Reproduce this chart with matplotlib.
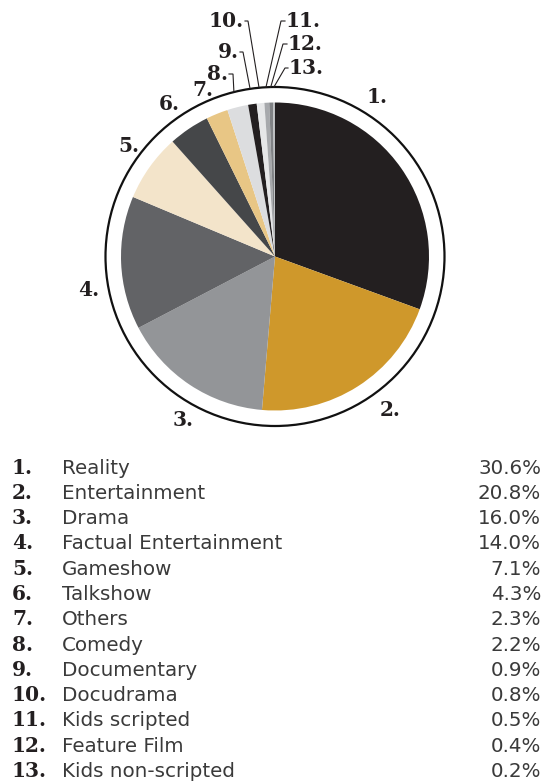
import matplotlib
matplotlib.use("Agg")
import matplotlib.pyplot as plt
from matplotlib.patches import Circle
import numpy as np

categories = ["Reality", "Entertainment", "Drama", "Factual Entertainment", "Gameshow",
              "Talkshow", "Others", "Comedy", "Documentary", "Docudrama",
              "Kids scripted", "Feature Film", "Kids non-scripted"]
shares = [30.6, 20.8, 16.0, 14.0, 7.1, 4.3, 2.3, 2.2, 0.9, 0.8, 0.5, 0.4, 0.2]
share_labels = ["30.6%", "20.8%", "16.0%", "14.0%", "7.1%", "4.3%", "2.3%", "2.2%",
                "0.9%", "0.8%", "0.5%", "0.4%", "0.2%"]
colors = ["#231f20", "#cf982b", "#939598", "#626366", "#f3e4ca", "#454749", "#e8c685",
          "#dcdddf", "#231f20", "#e6e7e8", "#a7a9ac", "#808285", "#bcbec0"]

W, H = 552, 782
fig = plt.figure(figsize=(W / 100, H / 100), dpi=100)
ax = fig.add_axes([0, 0, 1, 1])

def Y(y):
    return H - y

cx, cy = 275, 256.5
pie_r, ring_r = 154, 169.5

ax.pie(shares, colors=colors, startangle=90, counterclock=False, radius=pie_r,
       center=(cx, Y(cy)), wedgeprops=dict(linewidth=0))
ax.add_patch(Circle((cx, Y(cy)), ring_r, fill=False, edgecolor="#111111", linewidth=1.6))
ax.set_xlim(0, W)
ax.set_ylim(0, H)
ax.set_aspect("auto")
ax.axis("off")

num_font = dict(family="DejaVu Serif", fontweight="bold", color="#231f20")
num_size = 14.5

# labels around the pie (no leader)
big_label_pos = {1: (377, 97), 2: (390, 410), 3: (183, 420), 4: (89, 290),
                 5: (129, 146), 6: (169, 104), 7: (203, 90)}
for k, (x, y) in big_label_pos.items():
    ax.text(x, Y(y), f"{k}.", ha="center", va="center", fontsize=num_size, **num_font)

# small slices with leader lines
total = sum(shares)
cum = np.cumsum([0] + shares)
leader = {  # label anchor x, y, elbow x, side
    8: (228, 74, 233, "r"),
    9: (239, 52, 243, "r"),
    10: (244, 21, 248, "r"),
    11: (286, 21, 281, "l"),
    12: (288, 44, 283, "l"),
    13: (289, 68, 285, "l"),
}
for k, (tx, ty, ex, side) in leader.items():
    i = k - 1
    mid = (cum[i] + cum[i + 1]) / 2 / total
    ang = np.deg2rad(90 - 360 * mid)
    px = cx + ring_r * np.cos(ang)
    py = Y(cy) + ring_r * np.sin(ang)
    ax.plot([tx + (1 if side == "r" else -1), ex, px], [Y(ty), Y(ty), py],
            color="#231f20", lw=0.8, solid_joinstyle="miter")
    ax.text(tx, Y(ty), f"{k}.", ha="right" if side == "r" else "left", va="center",
            fontsize=num_size, **num_font)

# table
base0, dy = 473.5, 25.3
txt_font = dict(family="DejaVu Sans", fontweight="normal", color="#3a3a3a")
for i, (c, s) in enumerate(zip(categories, share_labels)):
    y = Y(base0 + i * dy)
    ax.text(12, y, f"{i + 1}.", ha="left", va="baseline", fontsize=num_size, **num_font)
    ax.text(62, y, c, ha="left", va="baseline", fontsize=14.3, **txt_font)
    ax.text(541, y, s, ha="right", va="baseline", fontsize=14.3, **txt_font)

fig.savefig("out.png", dpi=100, facecolor="white")
